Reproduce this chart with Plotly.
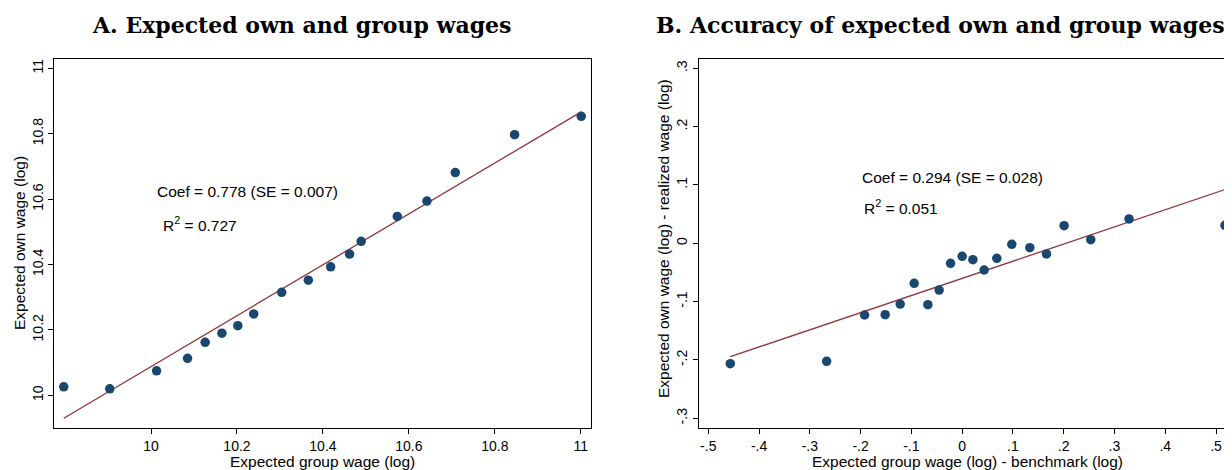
import numpy as np
import plotly.graph_objects as go

# Panel A data
a_x = [9.797, 9.904, 10.013, 10.085, 10.126, 10.165, 10.202, 10.239, 10.304, 10.366,
       10.418, 10.462, 10.489, 10.573, 10.642, 10.708, 10.846, 11.001]
a_y = [10.026, 10.020, 10.075, 10.113, 10.162, 10.190, 10.213, 10.249, 10.315, 10.352,
       10.393, 10.432, 10.471, 10.547, 10.594, 10.681, 10.797, 10.853]
a_coef, a_intercept = 0.778, 2.308

# Panel B data
b_x = [-0.4567, -0.2669, -0.1921, -0.1516, -0.1220, -0.0945, -0.0675, -0.0453, -0.0228, 0.0,
       0.0211, 0.0433, 0.0683, 0.0978, 0.1333, 0.1661, 0.2008, 0.2533, 0.3287, 0.5177]
b_y = [-0.2064, -0.2023, -0.1229, -0.1224, -0.1041, -0.0686, -0.1053, -0.0801, -0.0343, -0.0223,
       -0.0281, -0.0458, -0.0257, -0.0017, -0.0075, -0.0183, 0.0302, 0.0062, 0.0417, 0.0309]
b_coef, b_intercept = 0.294, -0.0601

a_xticks = [10, 10.2, 10.4, 10.6, 10.8, 11]
a_xticklabels = ["10", "10.2", "10.4", "10.6", "10.8", "11"]
a_yticks = [10, 10.2, 10.4, 10.6, 10.8, 11]
a_yticklabels = ["10", "10.2", "10.4", "10.6", "10.8", "11"]
b_xticks = [-0.5, -0.4, -0.3, -0.2, -0.1, 0, 0.1, 0.2, 0.3, 0.4, 0.5]
b_xticklabels = ["-.5", "-.4", "-.3", "-.2", "-.1", "0", ".1", ".2", ".3", ".4", ".5"]
b_yticks = [-0.3, -0.2, -0.1, 0, 0.1, 0.2, 0.3]
b_yticklabels = ["-.3", "-.2", "-.1", "0", ".1", ".2", ".3"]

OFF = 8  # page body margin
W, H = 1232 - OFF, 470 - OFF
NAVY = "#1a476f"
MAROON = "#90353b"
SANS = "Liberation Sans, Arial, sans-serif"

fig = go.Figure()

ax_line = np.array([min(a_x), max(a_x)])
bx_line = np.array([min(b_x), max(b_x)])

fig.add_trace(go.Scatter(x=ax_line, y=a_intercept + a_coef * ax_line, mode="lines",
                         line=dict(color=MAROON, width=1.3), xaxis="x", yaxis="y", showlegend=False))
fig.add_trace(go.Scatter(x=a_x, y=a_y, mode="markers",
                         marker=dict(color=NAVY, size=9.5, line=dict(width=0)),
                         xaxis="x", yaxis="y", showlegend=False))
fig.add_trace(go.Scatter(x=bx_line, y=b_intercept + b_coef * bx_line, mode="lines",
                         line=dict(color=MAROON, width=1.3), xaxis="x2", yaxis="y2", showlegend=False))
fig.add_trace(go.Scatter(x=b_x, y=b_y, mode="markers",
                         marker=dict(color=NAVY, size=9.5, line=dict(width=0)),
                         xaxis="x2", yaxis="y2", showlegend=False))

def px(x):
    return (x - OFF) / W

def py(y):
    return 1 - (y - OFF) / H

ydom = [py(427.7), py(59.3)]
common = dict(showgrid=False, zeroline=False, showline=True, linecolor="black", linewidth=1.4,
              ticks="outside", ticklen=5, tickcolor="black", tickwidth=1,
              tickfont=dict(family=SANS, size=14, color="black"))

fig.update_layout(
    width=W, height=H,
    margin=dict(l=0, r=0, t=0, b=0),
    paper_bgcolor="white", plot_bgcolor="white",
    xaxis=dict(domain=[px(54.3), px(590.7)], range=[9.775, 11.023], anchor="y",
               tickvals=a_xticks, ticktext=a_xticklabels, mirror=True, **common),
    yaxis=dict(domain=ydom, range=[9.901, 11.0275], anchor="x",
               tickvals=a_yticks, ticktext=a_yticklabels, tickangle=-90, mirror=True, **common),
    xaxis2=dict(domain=[px(699), 1.0], range=[-0.5183, 0.5315], anchor="y2",
                tickvals=b_xticks, ticktext=b_xticklabels, mirror=True, **common),
    yaxis2=dict(domain=ydom, range=[-0.3161, 0.3154], anchor="x2",
                tickvals=b_yticks, ticktext=b_yticklabels, tickangle=-90, mirror=False, **common),
)

TITLE_FONT = dict(family="DejaVu Serif, serif", size=22, color="black")
LAB_FONT = dict(family=SANS, size=15.5, color="black")
TXT_FONT = dict(family=SANS, size=15.5, color="black")

ann = [
    dict(text="<b>A. Expected own and group wages</b>", x=px(301), y=py(25), font=TITLE_FONT,
         xanchor="center", yanchor="middle"),
    dict(text="<b>B. Accuracy of expected own and group wages</b>", x=px(940), y=py(25), font=TITLE_FONT,
         xanchor="center", yanchor="middle"),
    dict(text="Expected group wage (log)", x=px(322), y=py(461), font=LAB_FONT,
         xanchor="center", yanchor="middle"),
    dict(text="Expected own wage (log)", x=px(19), y=py(243), font=LAB_FONT, textangle=-90,
         xanchor="center", yanchor="middle"),
    dict(text="Expected group wage (log) - benchmark (log)", x=px(967), y=py(461), font=LAB_FONT,
         xanchor="center", yanchor="middle"),
    dict(text="Expected own wage (log) - realized wage (log)", x=px(663), y=py(239), font=LAB_FONT,
         textangle=-90, xanchor="center", yanchor="middle"),
    dict(text="Coef = 0.778 (SE = 0.007)", x=px(155), y=py(191.5), font=TXT_FONT,
         xanchor="left", yanchor="middle"),
    dict(text="R<sup>2</sup> = 0.727", x=px(161), y=py(224), font=TXT_FONT,
         xanchor="left", yanchor="middle"),
    dict(text="Coef = 0.294 (SE = 0.028)", x=px(860), y=py(177.7), font=TXT_FONT,
         xanchor="left", yanchor="middle"),
    dict(text="R<sup>2</sup> = 0.051", x=px(862), y=py(206.7), font=TXT_FONT,
         xanchor="left", yanchor="middle"),
]
for a in ann:
    a.update(xref="paper", yref="paper", showarrow=False)
fig.update_layout(annotations=ann)

fig.write_html("out.html")
